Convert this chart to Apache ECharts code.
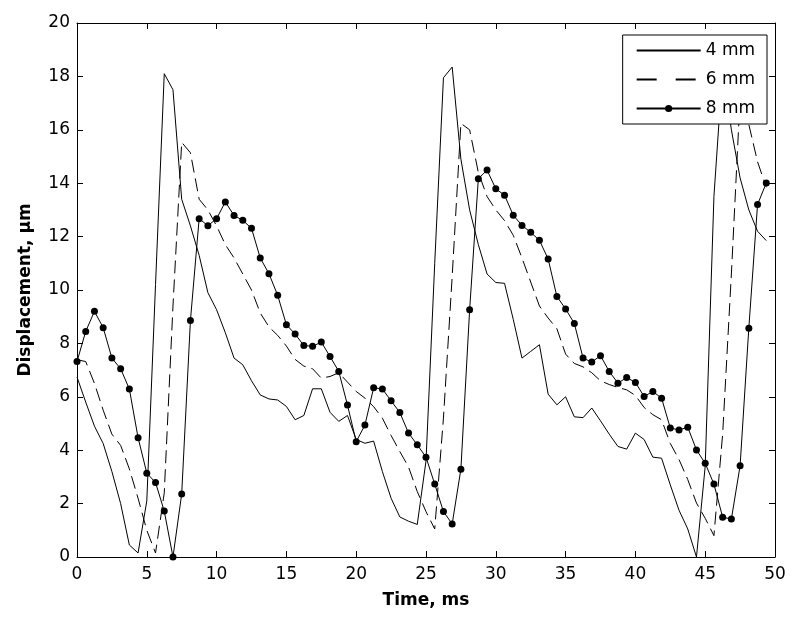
<!DOCTYPE html>
<html>
<head>
<meta charset="utf-8">
<script src="https://cdn.jsdelivr.net/npm/echarts@6/dist/echarts.min.js"></script>
<style>
  html, body { margin: 0; padding: 0; background: #fff; }
  .chart { width: 800px; height: 625px; }
</style>
</head>
<body>
<div class="chart"></div>
<script>
// sample times, ms
var time = [0, 0.625, 1.25, 1.875, 2.5, 3.125, 3.75, 4.375, 5, 5.625,
  6.25, 6.875, 7.5, 8.125, 8.75, 9.375, 10, 10.625, 11.25, 11.875,
  12.5, 13.125, 13.75, 14.375, 15, 15.625, 16.25, 16.875, 17.5, 18.125,
  18.75, 19.375, 20, 20.625, 21.25, 21.875, 22.5, 23.125, 23.75, 24.375,
  25, 25.625, 26.25, 26.875, 27.5, 28.125, 28.75, 29.375, 30, 30.625,
  31.25, 31.875, 32.5, 33.125, 33.75, 34.375, 35, 35.625, 36.25, 36.875,
  37.5, 38.125, 38.75, 39.375, 40, 40.625, 41.25, 41.875, 42.5, 43.125,
  43.75, 44.375, 45, 45.625, 46.25, 46.875, 47.5, 48.125, 48.75, 49.375];

// displacement, um
var d4 = [6.74, 5.8, 4.9, 4.25, 3.2, 2.0, 0.45, 0.15, 2.1, 10.2,
  18.1, 17.5, 13.4, 12.4, 11.3, 9.9, 9.26, 8.4, 7.45, 7.2,
  6.6, 6.07, 5.92, 5.88, 5.64, 5.14, 5.3, 6.3, 6.3, 5.42,
  5.08, 5.3, 4.4, 4.26, 4.34, 3.2, 2.2, 1.5, 1.34, 1.22,
  3.6, 11.0, 17.95, 18.35, 14.9, 13.0, 11.7, 10.6, 10.28, 10.25,
  8.9, 7.45, 7.7, 7.95, 6.1, 5.7, 6.0, 5.25, 5.22, 5.58,
  5.1, 4.6, 4.14, 4.04, 4.64, 4.4, 3.74, 3.7, 2.7, 1.75,
  1.05, 0.0, 3.4, 13.5, 18.3, 16.0, 14.2, 13.0, 12.2, 11.85];

var d6 = [7.39, 7.32, 6.5, 5.5, 4.6, 4.18, 3.3, 2.2, 1.0, 0.15,
  2.4, 9.4, 15.53, 15.14, 13.4, 13.0, 12.4, 11.7, 11.2, 10.6,
  10.0, 9.14, 8.62, 8.3, 7.9, 7.4, 7.15, 7.05, 6.7, 6.76,
  6.9, 6.55, 6.2, 5.95, 5.63, 5.2, 4.55, 3.95, 3.37, 2.45,
  1.7, 1.05, 5.2, 10.5, 16.24, 16.0, 14.4, 13.5, 13.0, 12.6,
  12.05, 11.2, 10.3, 9.4, 8.95, 8.55, 7.6, 7.25, 7.12, 6.9,
  6.6, 6.46, 6.35, 6.26, 6.05, 5.6, 5.33, 5.14, 4.25, 3.65,
  2.9, 2.02, 1.45, 0.8, 4.6, 10.6, 17.2, 16.2, 14.8, 13.85];

var d8 = [7.32, 8.45, 9.2, 8.59, 7.45, 7.05, 6.29, 4.47, 3.14, 2.79,
  1.72, 0, 2.36, 8.86, 12.67, 12.41, 12.67, 13.3, 12.79, 12.61,
  12.31, 11.2, 10.61, 9.8, 8.7, 8.35, 7.92, 7.89, 8.05, 7.51,
  6.95, 5.69, 4.32, 4.94, 6.34, 6.29, 5.85, 5.41, 4.64, 4.2,
  3.74, 2.73, 1.7, 1.24, 3.29, 9.26, 14.17, 14.49, 13.79, 13.55,
  12.8, 12.42, 12.16, 11.86, 11.16, 9.76, 9.29, 8.75, 7.45, 7.3,
  7.54, 6.95, 6.51, 6.72, 6.54, 6.01, 6.2, 5.95, 4.83, 4.76,
  4.86, 4.01, 3.51, 2.73, 1.49, 1.42, 3.42, 8.57, 13.2, 14.01];

var names = ['4 mm', '6 mm', '8 mm'];

function pairs(ys) {
  return ys.map(function (y, i) { return [time[i], y]; });
}

var myChart = echarts.init(document.querySelector('.chart'));

var font = 'DejaVu Sans';
var black = '#000';

// axis pieces shared by the bottom/left and the mirrored top/right frame
function frameAxis(pos, min, max, step, labels) {
  return {
    type: 'value',
    position: pos,
    min: min,
    max: max,
    interval: step,
    axisLine: { show: true, onZero: false, lineStyle: { color: black, width: 1 } },
    axisTick: { show: true, inside: true, length: 6, lineStyle: { color: black } },
    axisLabel: { show: labels, color: black, fontFamily: font, fontSize: 17, margin: labels && (pos == 'bottom') ? 9 : 7 },
    splitLine: { show: false }
  };
}

var xBottom = frameAxis('bottom', 0, 50, 5, true);
xBottom.name = 'Time, ms';
xBottom.nameLocation = 'middle';
xBottom.nameGap = 35;
xBottom.nameTextStyle = { color: black, fontFamily: font, fontWeight: 'bold', fontSize: 17 };

var yLeft = frameAxis('left', 0, 20, 2, true);
yLeft.name = 'Displacement, \u03bcm';
yLeft.nameLocation = 'middle';
yLeft.nameGap = 43;
yLeft.nameTextStyle = { color: black, fontFamily: font, fontWeight: 'bold', fontSize: 17 };

// no dot on the plain line entries
var noDot = { color: 'rgba(0,0,0,0)', opacity: 0 };

var option = {
  animation: false,
  backgroundColor: '#fff',
  grid: { left: 77, right: 25, top: 23, bottom: 68 },
  legend: {
    orient: 'vertical',
    right: 33,
    top: 35,
    padding: [7, 12, 7, 13],
    itemGap: 12,
    itemWidth: 64,
    itemHeight: 9,
    backgroundColor: '#fff',
    borderColor: black,
    borderWidth: 1,
    borderRadius: 0,
    textStyle: { color: black, fontFamily: font, fontSize: 17 },
    data: [
      { name: names[0], itemStyle: noDot },
      { name: names[1], itemStyle: noDot, lineStyle: { type: [20, 19] } },
      { name: names[2] }
    ]
  },
  xAxis: [xBottom, frameAxis('top', 0, 50, 5, false)],
  yAxis: [yLeft, frameAxis('right', 0, 20, 2, false)],
  series: [
    {
      name: names[0],
      type: 'line',
      data: pairs(d4),
      symbol: 'none',
      lineStyle: { color: black, width: 1 },
      itemStyle: { color: black }
    },
    {
      name: names[1],
      type: 'line',
      data: pairs(d6),
      symbol: 'none',
      lineStyle: { color: black, width: 1, type: [13, 6] },
      itemStyle: { color: black }
    },
    {
      name: names[2],
      type: 'line',
      data: pairs(d8),
      symbol: 'circle',
      symbolSize: 7,
      lineStyle: { color: black, width: 1 },
      itemStyle: { color: black }
    }
  ]
};

myChart.setOption(option);
</script>
</body>
</html>
